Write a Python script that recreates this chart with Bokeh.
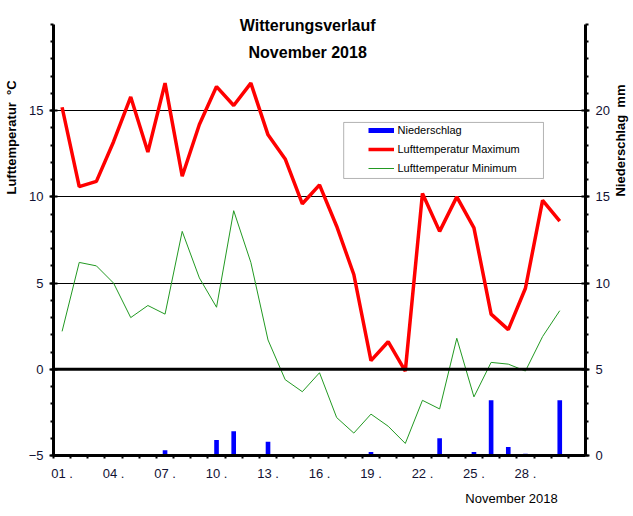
import math
from bokeh.plotting import figure
from bokeh.models import (Range1d, LinearAxis, FixedTicker, Span, Label, Legend,
                          LegendItem, BoxAnnotation)
from bokeh.embed import file_html
from bokeh.resources import INLINE

# ---- data ----
days = list(range(1, 31))
t_max = [15.2, 10.6, 10.9, 13.2, 15.8, 12.6, 16.6, 11.2, 14.2, 16.4,
         15.3, 16.6, 13.6, 12.2, 9.6, 10.7, 8.3, 5.5, 0.5, 1.6,
         -0.1, 10.2, 8.0, 10.0, 8.2, 3.2, 2.3, 4.7, 9.8, 8.6]
t_min = [2.2, 6.2, 6.0, 5.0, 3.0, 3.7, 3.2, 8.0, 5.3, 3.6,
         9.2, 6.2, 1.7, -0.6, -1.3, -0.2, -2.8, -3.7, -2.6, -3.3,
         -4.3, -1.8, -2.3, 1.8, -1.6, 0.4, 0.3, -0.1, 1.9, 3.4]
rain = [0, 0, 0, 0, 0, 0, 0.3, 0, 0, 0.9,
        1.4, 0, 0.8, 0, 0, 0, 0, 0, 0.2, 0,
        0, 0, 1.0, 0, 0.2, 3.2, 0.5, 0.1, 0, 3.2]
x_tick_pos = [1, 4, 7, 10, 13, 16, 19, 22, 25, 28]
x_tick_labels = ["01 .", "04 .", "07 .", "10 .", "13 .", "16 .", "19 .", "22 .", "25 .", "28 ."]
temp_ticks = [-5, 0, 5, 10, 15]
rain_ticks = [0, 5, 10, 15, 20]

FONT = "Liberation Sans"
TICKCOL = "#111133"

p = figure(width=633, height=516, x_range=Range1d(0.5, 31.5), y_range=Range1d(-5, 20),
           output_backend="svg", toolbar_location=None,
           min_border_left=53, min_border_right=48, min_border_top=24, min_border_bottom=61,
           outline_line_color=None, background_fill_color="white", border_fill_color="white")
p.extra_y_ranges = {"rain": Range1d(0, 25)}

# grid
p.xgrid.visible = False
p.ygrid.ticker = FixedTicker(ticks=[5, 10, 15])
p.ygrid.grid_line_color = "black"
p.ygrid.grid_line_width = 1
p.add_layout(Span(location=0, dimension="width", line_color="black", line_width=3))

# x axis
xa = p.xaxis[0]
xa.ticker = FixedTicker(ticks=x_tick_pos, minor_ticks=[d + 0.5 for d in range(0, 31)])
xa.major_label_overrides = {t: l for t, l in zip(x_tick_pos, x_tick_labels)}
xa.major_tick_in = 0
xa.major_tick_out = 0
xa.minor_tick_in = 0
xa.minor_tick_out = 3
xa.minor_tick_line_width = 2
xa.axis_line_width = 3
xa.major_label_standoff = 7
xa.major_label_text_font = FONT
xa.major_label_text_font_size = "13px"
xa.major_label_text_color = TICKCOL

# left axis
ya = p.yaxis[0]
ya.ticker = FixedTicker(ticks=temp_ticks, minor_ticks=list(range(-5, 21)))
ya.major_tick_in = 4
ya.major_tick_out = 4
ya.major_tick_line_width = 2
ya.minor_tick_in = 0
ya.minor_tick_out = 3
ya.minor_tick_line_width = 2
ya.axis_line_width = 3
ya.major_label_standoff = 6
ya.major_label_text_font = FONT
ya.major_label_text_font_size = "13px"
ya.major_label_text_color = TICKCOL

# right axis
ra = LinearAxis(y_range_name="rain",
                ticker=FixedTicker(ticks=rain_ticks, minor_ticks=list(range(0, 26))))
ra.major_tick_in = 4
ra.major_tick_out = 4
ra.major_tick_line_width = 2
ra.minor_tick_in = 0
ra.minor_tick_out = 3
ra.minor_tick_line_width = 2
ra.axis_line_width = 3
ra.major_label_standoff = 6
ra.major_label_text_font = FONT
ra.major_label_text_font_size = "13px"
ra.major_label_text_color = TICKCOL
p.add_layout(ra, "right")

# data glyphs
rain_days = [d for d, r in zip(days, rain) if r > 0]
rain_vals = [r for r in rain if r > 0]
bars = p.vbar(x=rain_days, top=rain_vals, bottom=0, width=0.27,
              fill_color="#0000FF", line_color=None, y_range_name="rain")
lmin = p.line(days, t_min, line_color="#229922", line_width=1)
lmax = p.line(days, t_max, line_color="#FF0000", line_width=3.5)

# legend proxy for precipitation (thick blue bar), no visible data
nan = float("nan")
proxy = p.line(x=[nan, nan], y=[nan, nan], line_color="#0000FF", line_width=5, line_cap="butt")

# legend box
p.add_layout(BoxAnnotation(left=17.41, right=29.05, top=14.32, bottom=11.07,
                           fill_color="white", fill_alpha=1, line_color="black", line_width=1))
legend = Legend(items=[LegendItem(label="Niederschlag", renderers=[proxy]),
                       LegendItem(label="Lufttemperatur Maximum", renderers=[lmax]),
                       LegendItem(label="Lufttemperatur Minimum", renderers=[lmin])],
                location=(314.5, 278), border_line_color=None, background_fill_alpha=0,
                padding=0, margin=0, glyph_width=26, glyph_height=18, label_height=18,
                spacing=1, label_standoff=4, label_text_font=FONT,
                label_text_font_size="11px", label_text_color="black")
p.add_layout(legend)

# texts (placed in side panels so they are not clipped to the frame)
def lab(text, x, y, size, bold, place, angle=0.0):
    p.add_layout(Label(x=x, y=y, text=text,
                       text_font=FONT, text_font_size=size,
                       text_font_style="bold" if bold else "normal",
                       text_align="center", text_baseline="middle", angle=angle,
                       text_color="black"), place)

lab("Witterungsverlauf", 15.31, 19.94, "16px", True, "above")
lab("November 2018", 15.31, 18.38, "16px", True, "center")
lab("Lufttemperatur\u00a0 °C", -1.97, 13.45, "13px", True, "left", math.pi / 2)
lab("Niederschlag\u00a0 mm", 33.53, 13.27, "13px", True, "right", math.pi / 2)
lab("November 2018", 27.19, -7.49, "13px", False, "below")

open("out.html", "w").write(file_html(p, INLINE))
